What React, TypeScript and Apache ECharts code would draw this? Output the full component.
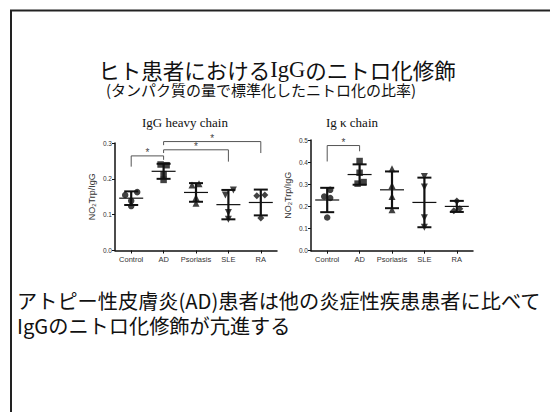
import React, { useEffect, useRef } from "react";
import * as echarts from "echarts";

const categories = ["Control", "AD", "Psoriasis", "SLE", "RA"];

// IgG heavy chain
const heavyPoints = [
  [0.155, 0.163, 0.139, 0.124],
  [0.240, 0.238, 0.213, 0.197],
  [0.183, 0.186, 0.148, 0.132],
  [0.155, 0.169, 0.106, 0.087],
  [0.153, 0.155, 0.091],
];
const heavyMean = [0.146, 0.221, 0.162, 0.128, 0.134];
const heavySd = [0.019, 0.021, 0.026, 0.041, 0.036];
// [fromCat, toCat, level, legFromBottom, legToBottom]
const heavyBrackets = [
  [0, 1, 0.264, 0.234, 0.253],
  [1, 3, 0.281, 0.272, 0.248],
  [1, 4, 0.304, 0.294, 0.272],
];

// Ig kappa chain
const kappaPoints = [
  [0.275, 0.245, 0.238, 0.150],
  [0.405, 0.352, 0.310, 0.303],
  [0.370, 0.295, 0.245, 0.185],
  [0.335, 0.288, 0.149, 0.106],
  [0.225, 0.190, 0.180],
];
const kappaMean = [0.229, 0.344, 0.275, 0.218, 0.200];
const kappaSd = [0.055, 0.046, 0.083, 0.112, 0.025];
const kappaBrackets = [[0, 1, 0.475, 0.403, 0.449]];

// horizontal jitter (px) of individual points
const heavyJitter = [[-6, 6, 0, 0], [-3, 3, 0, 0], [-4, 3, 0, 0], [-3, 5, 0, 0], [-4, 4, 0]];
const kappaJitter = [[3, -3, 3, 0], [0, 0, 4, -2], [0, 0, 0, 0], [0, 0, 0, 0], [0, 3, -3]];

const symbols = ["circle", "rect", "triangle", "triangle", "diamond"];
const symbolRot = [0, 0, 0, 180, 0];
const symbolSizes = [6.5, 6.5, 7, 7, 7];

const AX = "#111";
const CJK = "'Noto Sans CJK JP', sans-serif";
const SANS = "'Liberation Sans', Arial, sans-serif";
const SERIF = "'Liberation Serif', 'Times New Roman', serif";

function scatterData(points: number[][], jitter: number[][]) {
  const out: any[] = [];
  points.forEach((grp, i) => {
    grp.forEach((v, j) => {
      out.push({
        value: [i, v],
        symbol: symbols[i],
        symbolRotate: symbolRot[i],
        symbolSize: symbolSizes[i],
        symbolOffset: [jitter[i][j] || 0, 0],
      });
    });
  });
  return out;
}

function errorSeries(idx: number, mean: number[], sd: number[]) {
  return {
    type: "custom",
    xAxisIndex: idx,
    yAxisIndex: idx,
    data: mean.map((m, i) => [i, m, sd[i]]),
    encode: { x: 0, y: 1 },
    z: 3,
    renderItem: (params: any, api: any) => {
      const c = api.value(0);
      const m = api.value(1);
      const s = api.value(2);
      const top = api.coord([c, m + s]);
      const bot = api.coord([c, m - s]);
      const mid = api.coord([c, m]);
      const cap = 7;
      const half = 12;
      const st = { stroke: "#111", lineWidth: 2 };
      return {
        type: "group",
        children: [
          { type: "line", shape: { x1: top[0], y1: top[1], x2: bot[0], y2: bot[1] }, style: { stroke: "#111", lineWidth: 2.2 } },
          { type: "line", shape: { x1: top[0] - cap, y1: top[1], x2: top[0] + cap, y2: top[1] }, style: st },
          { type: "line", shape: { x1: bot[0] - cap, y1: bot[1], x2: bot[0] + cap, y2: bot[1] }, style: st },
          { type: "line", shape: { x1: mid[0] - half, y1: mid[1], x2: mid[0] + half, y2: mid[1] }, style: { stroke: "#111", lineWidth: 1.2 } },
        ],
      };
    },
  };
}

function bracketSeries(idx: number, brackets: number[][]) {
  return {
    type: "custom",
    xAxisIndex: idx,
    yAxisIndex: idx,
    clip: false,
    data: brackets,
    encode: { x: 0, y: 2 },
    z: 4,
    renderItem: (params: any, api: any) => {
      const a = api.value(0);
      const b = api.value(1);
      const lv = api.value(2);
      const la = api.value(3);
      const lb = api.value(4);
      const p1 = api.coord([a, la]);
      const p2 = api.coord([a, lv]);
      const p3 = api.coord([b, lv]);
      const p4 = api.coord([b, lb]);
      return {
        type: "group",
        children: [
          {
            type: "polyline",
            shape: { points: [p1, p2, p3, p4] },
            style: { stroke: "#555", lineWidth: 1, fill: "none" },
          },
          {
            type: "text",
            style: {
              text: "*",
              x: (p2[0] + p3[0]) / 2,
              y: p2[1] - 3,
              align: "center",
              verticalAlign: "middle",
              font: "10px " + SANS,
              fill: "#444",
            },
          },
        ],
      };
    },
  };
}

function xAxisCfg(idx: number) {
  return {
    type: "category",
    gridIndex: idx,
    data: categories,
    axisLine: { show: true, lineStyle: { color: AX, width: 1.5 } },
    axisTick: { show: true, alignWithLabel: true, length: 3, lineStyle: { color: AX, width: 1 } },
    axisLabel: { fontSize: 7.5, color: "#333", margin: 5, fontFamily: SANS, interval: 0 },
    splitLine: { show: false },
  };
}

function yAxisCfg(idx: number, max: number) {
  return {
    type: "value",
    gridIndex: idx,
    min: 0,
    max: max,
    interval: 0.1,
    axisLine: { show: true, lineStyle: { color: AX, width: 1.5 } },
    axisTick: { show: true, length: 3, lineStyle: { color: AX, width: 1 } },
    axisLabel: { fontSize: 6.5, color: "#333", margin: 3, fontFamily: SANS, formatter: (v: number) => v.toFixed(1) },
    splitLine: { show: false },
    name: "NO{s|2}Trp/IgG",
    nameLocation: "middle",
    nameGap: 18,
    nameTextStyle: {
      fontSize: 9,
      color: "#333",
      fontFamily: SANS,
      rich: { s: { fontSize: 6, color: "#333", fontFamily: SANS, padding: [5, 0, 0, 0] } },
    },
  };
}

export default function App() {
  const ref = useRef<HTMLDivElement>(null);
  useEffect(() => {
    if (!ref.current) return;
    const chart = echarts.init(ref.current, null, { renderer: "svg" });
    chart.setOption({
      animation: false,
      backgroundColor: "#fff",
      grid: [
        { left: 115, top: 143, width: 162, height: 107.5 },
        { left: 311, top: 140, width: 162, height: 110.7 },
      ],
      xAxis: [xAxisCfg(0), xAxisCfg(1)],
      yAxis: [yAxisCfg(0, 0.3), yAxisCfg(1, 0.5)],
      series: [
        {
          type: "scatter",
          xAxisIndex: 0,
          yAxisIndex: 0,
          data: scatterData(heavyPoints, heavyJitter),
          itemStyle: { color: "#111" },
          z: 2,
        },
        {
          type: "scatter",
          xAxisIndex: 1,
          yAxisIndex: 1,
          data: scatterData(kappaPoints, kappaJitter),
          itemStyle: { color: "#111" },
          z: 2,
        },
        errorSeries(0, heavyMean, heavySd),
        errorSeries(1, kappaMean, kappaSd),
        bracketSeries(0, heavyBrackets),
        bracketSeries(1, kappaBrackets),
      ],
      graphic: [
        {
          type: "rect",
          shape: { x: 11, y: 10.5, width: 700, height: 600 },
          style: { fill: "none", stroke: "#222", lineWidth: 2 },
          silent: true,
        },
        {
          type: "text",
          style: {
            text:
              "{a|ヒト患者における}{b|IgG}{a|のニトロ化修飾}\n{c|(タンパク質の量で標準化したニトロ化の比率)}",
            x: 277,
            y: 58,
            align: "center",
            verticalAlign: "top",
            rich: {
              a: { fontFamily: CJK, fontSize: 21.5, fill: "#111", lineHeight: 22, align: "center" },
              b: { fontFamily: SERIF, fontSize: 22.5, fill: "#111", lineHeight: 22, align: "center" },
              c: { fontFamily: CJK, fontSize: 15, fill: "#111", lineHeight: 18, padding: [0, 32, 0, 0], align: "center" },
            },
          },
        },
        {
          type: "text",
          style: {
            text: "IgG heavy chain",
            x: 185,
            y: 122,
            align: "center",
            verticalAlign: "middle",
            font: "13px " + SERIF,
            fill: "#111",
          },
        },
        {
          type: "text",
          style: {
            text: "Ig κ chain",
            x: 352,
            y: 122,
            align: "center",
            verticalAlign: "middle",
            font: "13px " + SERIF,
            fill: "#111",
          },
        },
        {
          type: "text",
          style: {
            text: "アトピー性皮膚炎(AD)患者は他の炎症性疾患患者に比べて\nIgGのニトロ化修飾が亢進する",
            x: 17,
            y: 288,
            align: "left",
            verticalAlign: "top",
            font: "20.2px " + CJK,
            lineHeight: 25,
            fill: "#111",
          },
        },
      ],
    });
    return () => chart.dispose();
  }, []);
  return (
    <div
      ref={ref}
      style={{ position: "fixed", left: 0, top: 0, width: 550, height: 412, background: "#fff" }}
    />
  );
}
